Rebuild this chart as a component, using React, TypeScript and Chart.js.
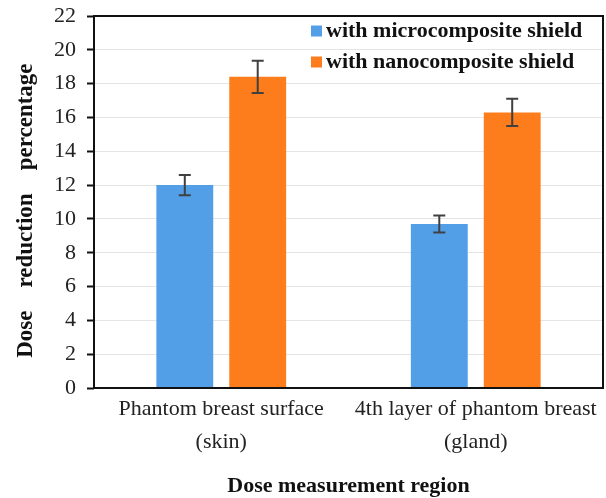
import React, { useEffect, useRef } from 'react';
import { Chart, registerables } from 'chart.js';

Chart.register(...registerables);

const categories: string[][] = [
  ['Phantom breast surface', '(skin)'],
  ['4th layer of phantom breast', '(gland)'],
];
const seriesNames = ['with microcomposite shield', 'with nanocomposite shield'];
const microValues = [12.0, 9.7];
const microErrors = [0.6, 0.5];
const nanoValues = [18.4, 16.3];
const nanoErrors = [0.95, 0.8];
const yMin = 0;
const yMax = 22;
const yStep = 2;
const xTitle = 'Dose measurement region';
const yTitle = 'Dose    reduction    percentage   ';

const BLUE = '#539FE7';
const ORANGE = '#FD7D1D';
const SERIF = "'Liberation Serif', 'Times New Roman', serif";

const errorBarPlugin = {
  id: 'errorBars',
  afterDatasetsDraw(chart: any) {
    const { ctx } = chart;
    const yScale = chart.scales.y;
    ctx.save();
    ctx.strokeStyle = '#404040';
    ctx.lineWidth = 2;
    chart.data.datasets.forEach((ds: any, i: number) => {
      const meta = chart.getDatasetMeta(i);
      meta.data.forEach((el: any, j: number) => {
        const v = ds.data[j];
        const e = ds.errors[j];
        const x = el.x;
        const yt = yScale.getPixelForValue(v + e);
        const yb = yScale.getPixelForValue(v - e);
        const cap = 6;
        ctx.beginPath();
        ctx.moveTo(x, yt);
        ctx.lineTo(x, yb);
        ctx.moveTo(x - cap, yt);
        ctx.lineTo(x + cap, yt);
        ctx.moveTo(x - cap, yb);
        ctx.lineTo(x + cap, yb);
        ctx.stroke();
      });
    });
    ctx.restore();
  },
};

const framePlugin = {
  id: 'frame',
  afterDraw(chart: any) {
    const { ctx, chartArea: a } = chart;
    ctx.save();
    ctx.strokeStyle = '#111';
    ctx.lineWidth = 2;
    ctx.strokeRect(a.left, a.top, a.right - a.left, a.bottom - a.top);
    ctx.restore();
  },
};

const legendPlugin = {
  id: 'insideLegend',
  afterDraw(chart: any) {
    const { ctx } = chart;
    ctx.save();
    ctx.font = `bold 22px ${SERIF}`;
    ctx.textBaseline = 'middle';
    ctx.textAlign = 'left';
    chart.data.datasets.forEach((ds: any, i: number) => {
      const y = 31 + i * 31;
      const x = 311;
      ctx.fillStyle = ds.backgroundColor;
      ctx.fillRect(x, y - 5.5, 11, 11);
      ctx.fillStyle = '#111';
      ctx.fillText(ds.label, x + 15, y);
    });
    ctx.restore();
  },
};

export default function App() {
  const ref = useRef<HTMLCanvasElement | null>(null);
  useEffect(() => {
    if (!ref.current) return;
    const chart = new Chart(ref.current, {
      type: 'bar',
      data: {
        labels: categories as any,
        datasets: [
          {
            label: seriesNames[0],
            data: microValues,
            errors: microErrors,
            backgroundColor: BLUE,
            categoryPercentage: 0.573,
            barPercentage: 0.78,
          } as any,
          {
            label: seriesNames[1],
            data: nanoValues,
            errors: nanoErrors,
            backgroundColor: ORANGE,
            categoryPercentage: 0.573,
            barPercentage: 0.78,
          } as any,
        ],
      },
      options: {
        animation: false,
        responsive: false,
        maintainAspectRatio: false,
        layout: { padding: { top: 16, right: 3, left: 0, bottom: 0 } },
        plugins: { legend: { display: false }, tooltip: { enabled: false } },
        scales: {
          x: {
            grid: { display: false, drawTicks: false },
            border: { display: false },
            ticks: {
              color: '#222',
              font: { family: SERIF, size: 22, lineHeight: 1.5 },
              padding: 5,
              maxRotation: 0,
              minRotation: 0,
            },
            title: {
              display: true,
              text: xTitle,
              color: '#111',
              font: { family: SERIF, size: 22, weight: 'bold', lineHeight: 1.05 },
              padding: { top: 0, bottom: 0 },
            },
            afterFit(scale: any) {
              scale.height = 110;
              scale.paddingLeft = 0;
              scale.paddingRight = 0;
            },
          },
          y: {
            min: yMin,
            max: yMax,
            grid: {
              color: '#e4e4e4',
              lineWidth: 1,
              tickColor: '#111',
              tickLength: 7,
              tickWidth: 2,
            },
            border: { display: false },
            ticks: {
              stepSize: yStep,
              color: '#222',
              font: { family: SERIF, size: 22 },
              padding: 11,
            },
            title: {
              display: true,
              text: yTitle,
              color: '#111',
              font: { family: SERIF, size: 23, weight: 'bold', lineHeight: 1.2 },
              padding: { top: 12, bottom: 0 },
            },
            afterFit(scale: any) {
              scale.width = 94;
              scale.paddingTop = 0;
              scale.paddingBottom = 0;
            },
          },
        },
      } as any,
      plugins: [errorBarPlugin, framePlugin, legendPlugin],
    });
    return () => chart.destroy();
  }, []);
  return (
    <div style={{ position: 'fixed', left: 0, top: 0, width: 606, height: 498, background: '#fff' }}>
      <canvas ref={ref} width={606} height={498} style={{ width: 606, height: 498 }} />
    </div>
  );
}
